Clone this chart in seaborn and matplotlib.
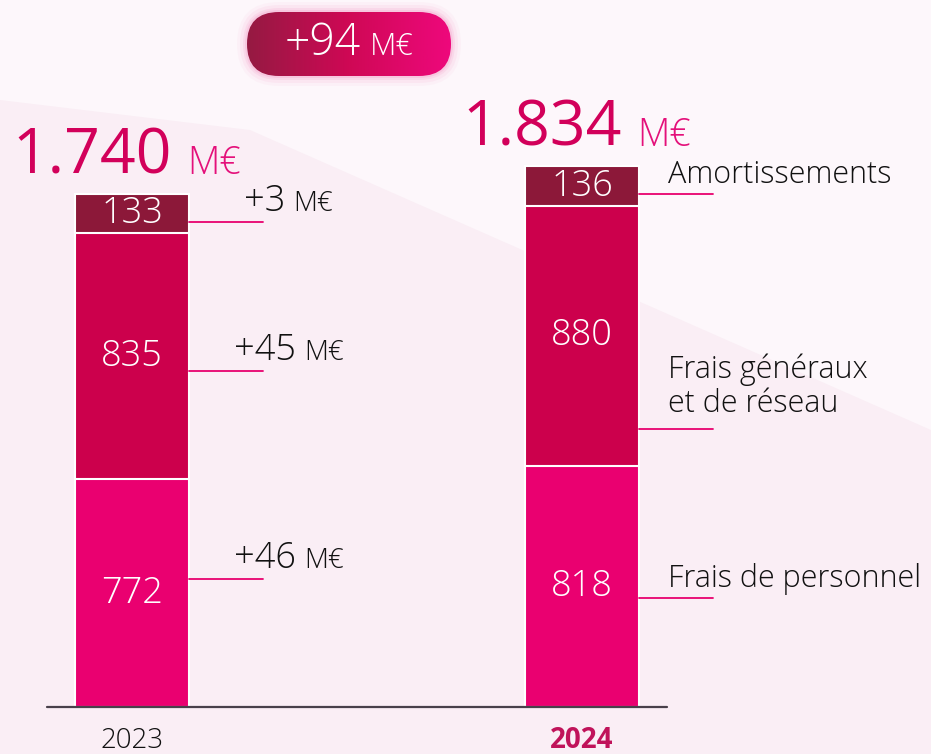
import numpy as np
import matplotlib
matplotlib.use("Agg")
import matplotlib.pyplot as plt
from matplotlib.patches import FancyBboxPatch, Polygon
from matplotlib.colors import LinearSegmentedColormap
import seaborn as sns

# Données (M€)
annees = ["2023", "2024"]
postes = ["Frais de personnel", "Frais généraux\net de réseau", "Amortissements"]
frais_personnel = [772, 818]
frais_generaux = [835, 880]
amortissements = [133, 136]
variations = ["+46", "+45", "+3"]

couleurs = ["#ea0070", "#cc004c", "#8c1839"]
rose_ligne = "#e8006e"

sns.set_theme(style="white")
plt.rcParams["font.family"] = ["Open Sans", "DejaVu Sans"]
plt.rcParams["font.weight"] = "light"

W, H = 931, 754
fig = plt.figure(figsize=(W / 100, H / 100), dpi=100)
fig.patch.set_facecolor("#faeef5")
renderer = fig.canvas.get_renderer()

# fond : bande claire en diagonale
fond = Polygon([(0, 1), (1, 1), (1, 1 - 430 / H), (250 / W, 1 - 130 / H), (0, 1 - 100 / H)],
               closed=True, transform=fig.transFigure, facecolor="#fdf7fb", edgecolor="none", zorder=-10)
fig.patches.append(fond)

ax = fig.add_axes([0, 0, 1, 1])
ax.set_facecolor("none")

largeur = 0.253
echelle = 0.295          # pixels par M€
px_x = 450               # pixels par unité de catégorie

series = [frais_personnel, frais_generaux, amortissements]
cumul = np.cumsum(np.array(series), axis=0)
totaux = cumul[-1]

# barres empilées : de la plus haute à la plus basse
for k in range(len(series) - 1, -1, -1):
    sns.barplot(x=annees, y=cumul[k], color=couleurs[k], saturation=1, width=largeur,
                edgecolor="white", linewidth=1.5, ax=ax, zorder=2)

ax.set_xlim(-132 / px_x, (W - 132) / px_x)
ax.set_ylim(-47 / echelle, (H - 47) / echelle)
ax.axis("off")
ax.axhline(0, xmin=47 / W, xmax=667 / W, color="#48404a", lw=1.6, zorder=5)


def texte_mixte(x, y, morceaux, centre=False, ecart=6):
    # x, y en pixels (depuis le bas)
    objets = [fig.text(0, 0, t, fontsize=s, color=c, fontweight=p, va="baseline", ha="left", zorder=6)
              for t, s, c, p in morceaux]
    largeurs = [o.get_window_extent(renderer).width for o in objets]
    total = sum(largeurs) + ecart * (len(objets) - 1)
    x0 = x - total / 2 if centre else x
    for o, l in zip(objets, largeurs):
        o.set_position((x0 / W, y / H))
        x0 += l + ecart


def vers_px(x, y):
    return ax.transData.transform((x, y))


# positions des traits de repère dans chaque segment (fraction depuis le bas)
fractions = [[0.56, 0.44, 0.27], [0.45, 0.14, 0.31]]

for i, annee in enumerate(annees):
    bas = 0
    for k, vals in enumerate(series):
        v = vals[i]
        ax.text(i, bas + v / 2, str(v), ha="center", va="center", color="white", fontsize=26, zorder=6)
        y_ligne = bas + fractions[i][k] * v
        x_bord = i + largeur / 2
        ax.plot([x_bord, x_bord + 74 / px_x], [y_ligne, y_ligne], color=rose_ligne, lw=1.3, zorder=4)
        X, Y = vers_px(x_bord, y_ligne)
        if i == 0:
            texte_mixte(X + 100, Y + 11, [(variations[k], 26, "#111111", "light"),
                                          ("M€", 20, "#111111", "light")], centre=True, ecart=8)
        else:
            decal = 9 if "\n" in postes[k] else 3
            fig.text((X + 29) / W, (Y + decal) / H, postes[k], fontsize=22, color="#111111",
                     ha="left", va="bottom", linespacing=1.1, zorder=6)
        bas += v

    # total au-dessus de la barre
    X, Y = vers_px(i, totaux[i])
    total_txt = f"{totaux[i]:,}".replace(",", ".")
    texte_mixte(X - 120, Y + 20, [(total_txt, 45, "#d2005a", "normal"),
                                  ("M€", 27, "#e4107a", "light")], ecart=16)

    # année
    if i == 0:
        ax.text(i, -41 / echelle, annee, ha="center", va="baseline", fontsize=20, color="#111111")
    else:
        ax.text(i, -41 / echelle, annee, ha="center", va="baseline", fontsize=20,
                color="#c0135a", fontweight="bold")

# pastille de variation totale
axb = fig.add_axes([235 / W, 1 - 88 / H, 228 / W, 88 / H])
axb.set_xlim(0, 228)
axb.set_ylim(0, 88)
axb.axis("off")
for pad, a in [(10, 0.05), (7, 0.08), (4, 0.12), (2, 0.18)]:
    halo = FancyBboxPatch((12 - pad, 12 - pad), 204 + 2 * pad, 64 + 2 * pad,
                          boxstyle=f"round,pad=0,rounding_size={32 + pad}",
                          facecolor="#f27ab4", edgecolor="none", alpha=a)
    axb.add_patch(halo)
pilule = FancyBboxPatch((12, 12), 204, 64, boxstyle="round,pad=0,rounding_size=32",
                        facecolor="none", edgecolor="none")
axb.add_patch(pilule)
degrade = LinearSegmentedColormap.from_list("badge", ["#951a42", "#cf0855", "#ee087c"])
img = axb.imshow(np.linspace(0, 1, 256).reshape(1, -1), cmap=degrade, extent=(12, 216, 12, 76),
                 aspect="auto", zorder=1)
img.set_clip_path(pilule)

diff = totaux[1] - totaux[0]
texte_mixte(349, H - 55, [(f"+{diff}", 32, "white", "light"), ("M€", 22, "white", "light")],
            centre=True, ecart=9)

fig.savefig("out.png", dpi=100, facecolor=fig.get_facecolor())
